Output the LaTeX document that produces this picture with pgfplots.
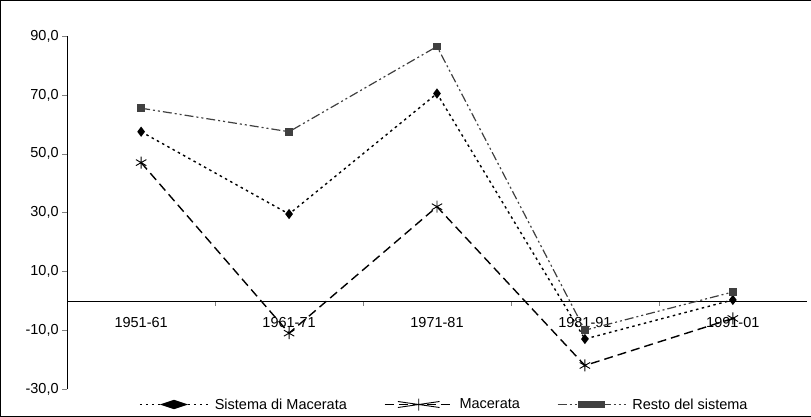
\documentclass[border=0pt]{standalone}
\usepackage{pgfplots}
\pgfplotsset{compat=1.18}
\usepackage{fontspec}
\setmainfont{Liberation Sans}
\begin{document}
\begin{tikzpicture}
\begin{axis}[name=ax, scale only axis, width=740pt, height=353pt,
  xmin=-0.5, xmax=4.5, ymin=-30, ymax=90,
  axis x line*=middle, axis y line*=left,
  axis line style={-}, 
  xtick={0,1,2,3,4}, xticklabels={1951-61,1961-71,1971-81,1981-91,1991-01},
  major x tick style={draw=none},
  minor xtick={0.5,1.5,2.5,3.5}, minor tick length=5pt,
  x tick label style={yshift=-8pt},
  ytick={-30,-10,10,30,50,70,90}, major tick length=5pt,
  tick align=outside, ytick pos=left,
  /pgf/number format/.cd, fixed, fixed zerofill, precision=1, use comma, assume math mode=true,
  /pgfplots/.cd,
  tick label style={font=\fontsize{14.5}{16}\selectfont},
  legend style={at={(0.51,-0.015)}, anchor=north, draw=none, fill=none, legend columns=3, font=\fontsize{14.5}{16}\selectfont, /tikz/every even column/.append style={column sep=35pt}, /tikz/every odd column/.append style={column sep=4pt}},
  legend image post style={xscale=4},
]
\addplot[black, line width=1.4pt, dash pattern=on 2.5pt off 3.5pt, mark=diamond*, mark size=4pt, mark options={solid}] coordinates {(0,57.5)(1,29.5)(2,70.5)(3,-13)(4,0.3)};
\addlegendentry{Sistema di Macerata}
\addplot[black, line width=1.4pt, dash pattern=on 9pt off 5pt, mark=asterisk, mark size=6pt, mark options={solid, line width=0.9pt}] coordinates {(0,47)(1,-11)(2,32)(3,-22)(4,-6)};
\addlegendentry{Macerata}
\addplot[black!75, line width=1.2pt, dash pattern=on 9pt off 3pt on 2pt off 3pt on 2pt off 3pt, mark=square*, mark size=3.3pt, mark options={solid}] coordinates {(0,65.5)(1,57.5)(2,86.5)(3,-10)(4,3)};
\addlegendentry{Resto del sistema}
\end{axis}
\draw ([xshift=-67pt,yshift=-27pt]ax.south west) rectangle ([xshift=4pt,yshift=36pt]ax.north east);
\end{tikzpicture}
\end{document}
